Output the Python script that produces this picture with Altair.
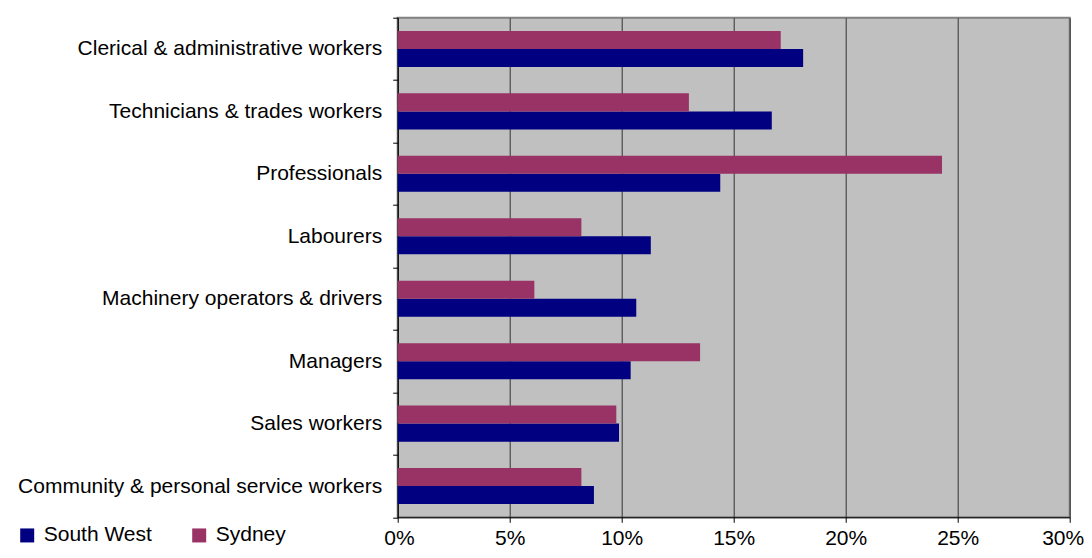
import altair as alt
import pandas as pd

categories = [
    "Clerical & administrative workers",
    "Technicians & trades workers",
    "Professionals",
    "Labourers",
    "Machinery operators & drivers",
    "Managers",
    "Sales workers",
    "Community & personal service workers",
]
south_west = [18.1, 16.7, 14.4, 11.3, 10.65, 10.4, 9.88, 8.76]
sydney = [17.1, 13.0, 24.3, 8.2, 6.1, 13.5, 9.76, 8.2]
regions = ["South West", "Sydney"]
region_colors = ["#000080", "#993366"]
tick_values = [0, 0.05, 0.10, 0.15, 0.20, 0.25, 0.30]

rows = []
for c, sw, sy in zip(categories, south_west, sydney):
    rows.append({"category": c, "region": "South West", "value": sw / 100})
    rows.append({"category": c, "region": "Sydney", "value": sy / 100})
df = pd.DataFrame(rows)

FONT = "Liberation Sans"
FS = 21

chart = (
    alt.Chart(df)
    .mark_bar()
    .encode(
        x=alt.X(
            "value:Q",
            scale=alt.Scale(domain=[0, 0.3], nice=False, zero=True),
            axis=alt.Axis(
                values=tick_values,
                format=".0%",
                title=None,
                grid=True,
                gridColor="#333333",
                gridWidth=1,
                gridOpacity=1,
                tickSize=5,
                tickColor="#000000",
                domainColor="#000000",
                labelPadding=5,
                labelFontSize=FS,
                labelFont=FONT,
                labelColor="#000000",
                labelFlush=True,
                labelFlushOffset=14,
            ),
        ),
        y=alt.Y(
            "category:N",
            sort=categories,
            scale=alt.Scale(paddingInner=0, paddingOuter=0),
            axis=alt.Axis(
                title=None,
                tickBand="extent",
                grid=False,
                tickSize=5,
                tickColor="#000000",
                domainColor="#000000",
                labelPadding=11,
                labelFontSize=FS,
                labelFont=FONT,
                labelColor="#000000",
                labelLimit=500,
            ),
        ),
        yOffset=alt.YOffset(
            "region:N",
            sort=["Sydney", "South West"],
            scale=alt.Scale(paddingOuter=0.733, paddingInner=0),
        ),
        color=alt.Color(
            "region:N",
            scale=alt.Scale(domain=regions, range=region_colors),
            legend=alt.Legend(
                title=None,
                orient="none",
                direction="horizontal",
                legendX=-381,
                legendY=507,
                symbolType="square",
                symbolSize=196,
                symbolStrokeWidth=0,
                symbolOpacity=1,
                labelFontSize=FS,
                labelFont=FONT,
                labelColor="#000000",
                labelOffset=6,
                columnPadding=36,
            ),
        ),
    )
    .properties(
        width=672,
        height=499.6,
        autosize=alt.AutoSizeParams(type="none"),
        padding={"left": 389.7, "top": 9.7, "right": 14.3, "bottom": 32.7},
        background="#ffffff",
    )
    .configure_view(fill="#C0C0C0", stroke="#808080", strokeWidth=2)
)

chart.save("out.html", embed_options={"renderer": "svg", "actions": False})
